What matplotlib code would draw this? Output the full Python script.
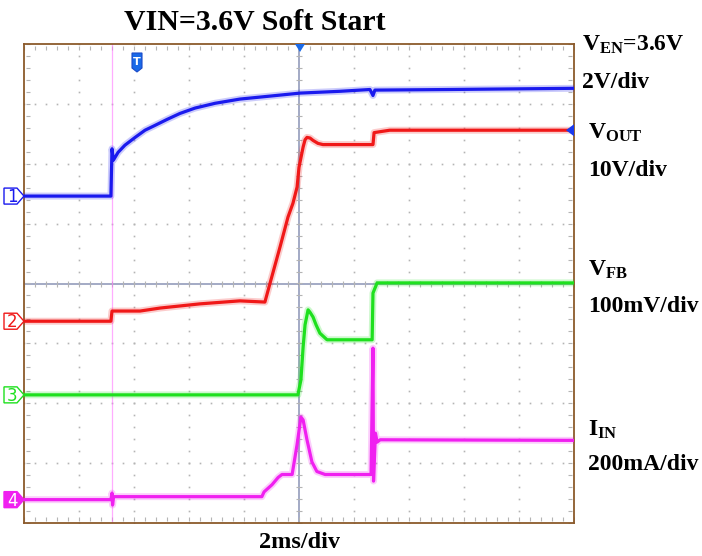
import numpy as np
import matplotlib
matplotlib.use("Agg")
import matplotlib.pyplot as plt
from matplotlib.patches import Polygon

plt.rcParams['font.family'] = ['Liberation Serif', 'DejaVu Serif']
plt.rcParams['mathtext.fontset'] = 'custom'
plt.rcParams['mathtext.rm'] = 'Liberation Serif:bold'
plt.rcParams['mathtext.bf'] = 'Liberation Serif:bold'

# time in ms (2ms/div, centre = trigger), level in screen divisions
t_en = [-10, -6.84, -6.80, -6.75, -6.58, -6.33, -5.96, -5.60, -5.24, -4.80, -4.33, -3.78, -3.05,
        -2.15, -1.05, 0.04, 1.49, 2.58, 2.69, 2.76, 5.49, 10]
v_en = [1.46, 1.46, 2.25, 2.06, 2.19, 2.31, 2.44, 2.56, 2.64, 2.74, 2.84, 2.93, 3.01,
        3.08, 3.13, 3.18, 3.21, 3.24, 3.14, 3.23, 3.24, 3.26]

t_out = [-10, -6.84, -6.80, -5.78, -5.05, -3.60, -2.15, -1.24, -1.05, -0.69, -0.40, -0.22, -0.07,
         0.0, 0.15, 0.22, 0.29, 0.40, 0.51, 0.69, 0.87, 2.62, 2.69, 2.73, 3.30, 10]
v_out = [-0.63, -0.63, -0.46, -0.46, -0.41, -0.34, -0.29, -0.31, 0.01, 0.61, 1.11, 1.34, 1.61,
         1.94, 2.28, 2.40, 2.44, 2.43, 2.39, 2.34, 2.32, 2.32, 2.32, 2.52, 2.56, 2.56]

t_fb = [-10, -0.04, 0.07, 0.15, 0.22, 0.33, 0.40, 0.51, 0.62, 0.76, 1.02, 2.66, 2.69, 2.84, 3.60, 10]
v_fb = [-1.86, -1.86, -1.61, -1.06, -0.69, -0.44, -0.48, -0.56, -0.69, -0.83, -0.94, -0.94, -0.16,
        0.01, 0.01, 0.01]

t_in = [-10, -6.84, -6.80, -6.78, -6.74, -1.35, -1.27, -0.98, -0.76, -0.62, -0.25, -0.07, 0.07, 0.15,
        0.29, 0.47, 0.65, 0.95, 2.62, 2.69, 2.71, 2.78, 2.84, 2.95, 10]
v_in = [-3.61, -3.61, -3.50, -3.70, -3.56, -3.56, -3.48, -3.36, -3.24, -3.19, -3.19, -2.69, -2.23, -2.28,
        -2.61, -2.98, -3.14, -3.19, -3.19, -1.08, -3.30, -2.50, -2.65, -2.61, -2.62]

t_step = [-6.80, 2.69]  # faint pink edges of I_IN

fig = plt.figure(figsize=(7.02, 5.56), dpi=100)
ax = fig.add_axes([24/702, 33/556, 550/702, 479/556])
ax.set_xlim(-10, 10)
ax.set_ylim(-4, 4)
ax.set_xticks([]); ax.set_yticks([])
for s in ax.spines.values():
    s.set_color('#8b5a2b'); s.set_linewidth(1.3)

# scope graticule
gc = '#b4b4b4'
for gx in np.arange(-8, 9, 2):
    if gx == 0:
        continue
    yy = np.arange(-4, 4.01, 0.2)
    ax.plot(np.full_like(yy, gx), yy, ls='none', marker='s', ms=1.2, mfc=gc, mec='none')
for gy in np.arange(-3, 4, 1):
    if gy == 0:
        continue
    xx = np.arange(-10, 10.01, 0.4)
    ax.plot(xx, np.full_like(xx, gy), ls='none', marker='s', ms=1.2, mfc=gc, mec='none')
# edge ticks
xx = np.arange(-10, 10.01, 0.4)
ax.plot(xx, np.full_like(xx, 3.93), ls='none', marker='|', ms=2.5, mec=gc, mew=0.8)
ax.plot(xx, np.full_like(xx, -3.93), ls='none', marker='|', ms=2.5, mec=gc, mew=0.8)
yy = np.arange(-4, 4.01, 0.2)
ax.plot(np.full_like(yy, -9.85), yy, ls='none', marker='_', ms=2.5, mec=gc, mew=0.8)
ax.plot(np.full_like(yy, 9.85), yy, ls='none', marker='_', ms=2.5, mec=gc, mew=0.8)
# centre cross
cc = '#8a93b5'
ax.axhline(0, color=cc, lw=1.1, zorder=1)
ax.axvline(0, color=cc, lw=1.1, zorder=1)
ax.plot(xx, np.zeros_like(xx), ls='none', marker='|', ms=4, mec=gc, mew=0.8)
ax.plot(np.zeros_like(yy), yy, ls='none', marker='_', ms=4, mec=gc, mew=0.8)

# faint vertical edges
ax.plot([t_step[0], t_step[0]], [-4, 4], color='#ff77ff', lw=0.9, alpha=0.6, zorder=2)
ax.plot([t_step[1], t_step[1]], [-3.2, -1.1], color='#ff77ff', lw=0.9, alpha=0.8, zorder=2)

traces = [(t_en, v_en, '#1a1aee'), (t_out, v_out, '#f01818'),
          (t_fb, v_fb, '#1ee01e'), (t_in, v_in, '#f020f0')]
for tt, vv, c in traces:
    ax.plot(tt, vv, color=c, lw=5.0, alpha=0.22, solid_joinstyle='round', zorder=3)
    ax.plot(tt, vv, color=c, lw=2.3, solid_joinstyle='round', zorder=4)


def fig_xy(px, py):
    return px / 702, 1 - py / 556


def data_py(v):
    return 556 - ax.transData.transform((0, v))[1]


# channel markers
labels = ['1', '2', '3', '4']
for i, (tt, vv, c) in enumerate(traces):
    py = data_py(vv[0])
    pts = [fig_xy(4, py - 8), fig_xy(17, py - 8), fig_xy(24, py), fig_xy(17, py + 8), fig_xy(4, py + 8)]
    filled = (i == 3)
    fig.patches.append(Polygon(pts, closed=True, transform=fig.transFigure,
                               fc=c if filled else 'white', ec=c, lw=1.0))
    fig.text(*fig_xy(12, py + 1), labels[i], color='white' if filled else c,
             fontsize=12, ha='center', va='center', family='DejaVu Sans')

# trigger markers
fig.patches.append(Polygon([fig_xy(132, 53), fig_xy(142, 53), fig_xy(142, 68), fig_xy(137, 72),
                            fig_xy(132, 68)], closed=True, transform=fig.transFigure,
                           fc='#1a6ae8', ec='#1a4ac8', lw=0.8))
fig.text(*fig_xy(137, 62), 'T', color='white', fontsize=8, ha='center', va='center',
         family='DejaVu Sans', fontweight='bold')
fig.patches.append(Polygon([fig_xy(295, 44), fig_xy(305, 44), fig_xy(300, 52)], closed=True,
                           transform=fig.transFigure, fc='#1a6ae8', ec='none'))
py = data_py(v_out[-1])
fig.patches.append(Polygon([fig_xy(574, py - 6), fig_xy(574, py + 6), fig_xy(566, py)], closed=True,
                           transform=fig.transFigure, fc='#1a3aee', ec='none'))

# text
fig.text(*fig_xy(255, 22), 'VIN=3.6V Soft Start', fontsize=21.5, fontweight='bold',
         ha='center', va='center')
fig.text(*fig_xy(300, 543), '2ms/div', fontsize=17.5, fontweight='bold', ha='center', va='center')
right = [(582, 45, r'$\mathbf{V_{EN}}$=3.6V'), (582, 82, '2V/div'),
         (588, 133, r'$\mathbf{V_{OUT}}$'), (588, 170, '10V/div'),
         (588, 270, r'$\mathbf{V_{FB}}$'), (588, 307, '100mV/div'),
         (588, 430, r'$\mathbf{I_{IN}}$'), (588, 465, '200mA/div')]
for px, py, s in right:
    fig.text(*fig_xy(px, py), s, fontsize=17, fontweight='bold', ha='left', va='center')

fig.savefig('out.png', dpi=100)
